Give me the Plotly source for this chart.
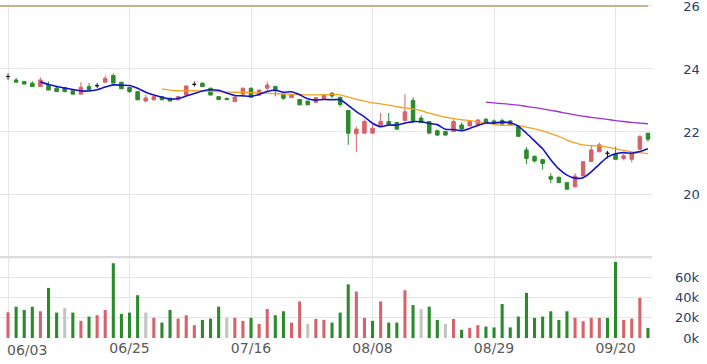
import plotly.graph_objects as go
import pandas as pd

dates = ["06/03","06/04","06/05","06/06","06/07","06/11","06/12","06/13","06/14",
         "06/17","06/18","06/19","06/20","06/21","06/24","06/25","06/26","06/27","06/28",
         "07/01","07/02","07/03","07/04","07/05","07/08","07/09","07/10","07/11","07/12",
         "07/15","07/16","07/17","07/18","07/19","07/22","07/23","07/26","07/29","07/30","07/31",
         "08/01","08/02","08/05","08/06","08/07","08/08","08/09","08/12","08/13","08/14","08/15","08/16",
         "08/19","08/20","08/21","08/22","08/23","08/26","08/27","08/28","08/29","08/30",
         "09/02","09/03","09/04","09/05","09/06","09/09","09/10","09/11","09/12","09/13",
         "09/16","09/18","09/19","09/20","09/23","09/24","09/25","09/26"]

opens = [23.76,23.65,23.60,23.55,23.44,23.47,23.39,23.41,23.31,23.20,23.44,23.47,23.58,23.79,23.58,23.41,23.28,22.98,23.02,23.12,
         23.07,23.02,23.17,23.51,23.55,23.39,23.12,23.06,22.96,23.20,23.39,23.17,23.39,23.44,23.20,23.09,23.03,22.98,22.94,23.04,
         23.23,23.10,22.68,21.94,21.96,21.96,22.17,22.33,22.30,22.36,23.00,22.44,22.33,22.04,22.01,22.01,22.22,22.19,22.22,22.40,
         22.35,22.36,22.35,22.17,21.43,21.22,21.12,20.58,20.56,20.39,20.26,20.60,21.06,21.37,21.32,21.30,21.16,21.13,21.45,21.96]
highs = [23.85,23.72,23.62,23.61,23.73,23.60,23.47,23.42,23.33,23.58,23.55,23.55,23.79,23.86,23.58,23.41,23.28,23.17,23.14,23.14,
         23.09,23.14,23.47,23.60,23.57,23.39,23.14,23.10,23.12,23.40,23.40,23.34,23.60,23.47,23.22,23.18,23.04,22.99,23.10,23.18,
         23.26,23.12,22.68,22.17,22.40,22.25,22.60,22.60,22.32,23.20,23.10,22.53,22.34,22.05,22.02,22.40,22.30,22.33,22.40,22.45,
         22.40,22.42,22.38,22.20,21.52,21.26,21.15,20.69,20.58,20.40,20.69,21.06,21.59,21.66,21.40,21.53,21.30,21.34,21.90,21.97]
lows = [23.66,23.58,23.52,23.44,23.44,23.33,23.28,23.26,23.20,23.20,23.33,23.40,23.58,23.55,23.37,23.24,23.02,22.96,23.00,23.02,
        22.98,23.00,23.17,23.44,23.44,23.17,23.02,23.01,22.95,23.20,23.10,23.15,23.30,23.13,23.02,23.08,22.86,22.86,22.93,23.03,
        23.07,22.80,21.59,21.37,21.96,21.96,22.17,22.22,22.06,22.36,22.28,22.28,21.96,21.87,21.88,22.01,22.05,22.19,22.22,22.30,
        22.25,22.20,22.20,21.86,20.98,21.03,20.80,20.37,20.39,20.18,20.24,20.60,21.06,21.37,21.16,21.13,21.10,21.03,21.45,21.69]
closes = [23.76,23.58,23.52,23.44,23.65,23.33,23.28,23.28,23.20,23.42,23.33,23.47,23.70,23.55,23.37,23.28,23.02,23.08,23.12,23.02,
          22.98,23.12,23.46,23.51,23.44,23.17,23.03,23.03,23.11,23.39,23.10,23.33,23.49,23.31,23.07,23.17,22.86,22.86,23.09,23.17,
          23.14,22.87,21.96,22.09,22.33,22.12,22.33,22.22,22.09,22.64,22.36,22.30,21.96,21.90,21.90,22.33,22.09,22.33,22.38,22.30,
          22.30,22.25,22.22,21.86,21.16,21.08,21.00,20.50,20.39,20.18,20.60,21.06,21.43,21.59,21.32,21.13,21.24,21.34,21.85,21.77]
doji_idx = [0, 11, 23, 74]

volumes_k = [25.3,30.8,27.6,30.8,26.3,49.3,25.0,29.5,25.0,16.9,21.1,22.4,27.6,73.6,23.7,25.0,42.1,25.0,19.8,15.2,
             27.6,19.1,22.4,12.6,17.8,19.1,30.8,19.8,19.8,16.9,19.8,13.9,28.5,22.4,26.3,15.2,36.0,13.9,18.8,17.8,
             15.2,25.0,52.8,45.7,19.8,16.9,36.0,15.2,15.2,47.0,32.4,28.5,30.8,17.8,13.9,18.8,8.1,10.0,12.6,11.3,
             10.4,33.4,10.4,21.1,44.4,19.8,21.1,26.3,17.8,26.3,19.8,16.5,19.8,19.8,19.8,74.9,17.8,19.1,39.5,10.0]
# u = up (red), d = down (green), f = flat (grey)
vol_dir = list("uddduddfdu" "duuddddfud" "duuudddfuu" "duudduufuu" "ddduududdu"
               "dfddfuduud" "dddddddddd" "uuuudduuud")

tick_dates = ["06/03","06/25","07/16","08/08","08/29","09/20"]
price_ticks = [20, 22, 24, 26]
vol_ticks = [0, 20000, 40000, 60000]
vol_tick_text = ["\u20070k", "20k", "40k", "60k"]

RED = "#d5636b"
GREEN = "#2b8a2b"
GREY = "#c4c4c4"

n = len(dates)
main_idx = [i for i in range(n) if i not in doji_idx]
sel = lambda arr, idx: [arr[i] for i in idx]

fig = go.Figure()
fig.add_trace(go.Candlestick(
    x=sel(dates, main_idx), open=sel(opens, main_idx), high=sel(highs, main_idx),
    low=sel(lows, main_idx), close=sel(closes, main_idx),
    increasing=dict(line=dict(color=RED, width=1), fillcolor=RED),
    decreasing=dict(line=dict(color=GREEN, width=1), fillcolor=GREEN),
    whiskerwidth=0, xaxis="x", yaxis="y", showlegend=False))
fig.add_trace(go.Candlestick(
    x=sel(dates, doji_idx), open=sel(opens, doji_idx), high=sel(highs, doji_idx),
    low=sel(lows, doji_idx), close=sel(closes, doji_idx),
    increasing=dict(line=dict(color="#111111", width=1), fillcolor="#111111"),
    decreasing=dict(line=dict(color="#111111", width=1), fillcolor="#111111"),
    whiskerwidth=0, xaxis="x", yaxis="y", showlegend=False))

cs = pd.Series(closes)
ma5 = cs.rolling(5).mean()
ma20 = cs.rolling(20).mean()
ma60 = cs.rolling(60).mean()
for ma, col, w in [(ma60, "#9b32d6", 1.3), (ma20, "#f3a21e", 1.3), (ma5, "#1212cc", 1.6)]:
    fig.add_trace(go.Scatter(x=dates, y=ma, mode="lines", line=dict(color=col, width=w, shape="spline", smoothing=0.6),
                             xaxis="x", yaxis="y", showlegend=False, hoverinfo="skip"))

cmap = {"u": RED, "d": GREEN, "f": GREY}
fig.add_trace(go.Bar(x=dates, y=[v * 1000 for v in volumes_k], marker_color=[cmap[c] for c in vol_dir],
                     marker_line_width=0, width=0.38, xaxis="x2", yaxis="y2", showlegend=False))

grid = "#e6e6e6"
xcommon = dict(type="category", categoryorder="array", categoryarray=dates, range=[-0.99, 79.5],
               tickmode="array", tickvals=tick_dates, showgrid=True, gridcolor=grid, gridwidth=1,
               zeroline=False, showline=False, ticks="", rangeslider=dict(visible=False),
               fixedrange=True, automargin=False)
ycommon = dict(side="right", showgrid=True, gridcolor=grid, zeroline=False, showline=False, ticks="",
               ticklabelstandoff=22, automargin=False, fixedrange=True, ticklabeloverflow="allow",
               tickfont=dict(family="DejaVu Sans", size=13, color="#24406e"))
date_font = dict(family="DejaVu Sans", size=14, color="#5a5a5a")
fig.update_layout(
    width=707, height=364, margin=dict(l=0, r=55, t=4, b=26, autoexpand=False),
    paper_bgcolor="white", plot_bgcolor="white", boxgap=0.38, bargap=0.6,
    showlegend=False, font=dict(family="DejaVu Sans"),
    xaxis=dict(**xcommon, domain=[0, 1], anchor="y", showticklabels=False),
    xaxis2=dict(**xcommon, domain=[0, 1], anchor="y2",
                ticktext=[""] + tick_dates[1:], showticklabels=True, tickfont=date_font),
    yaxis=dict(**ycommon, domain=[0.2455, 1], range=[18.06, 26.063], anchor="x",
               tickvals=price_ticks, ticktext=["\u2007" + str(t) for t in price_ticks]),
    yaxis2=dict(**ycommon, domain=[0, 0.2455], range=[0, 80700], anchor="x2",
                tickvals=vol_ticks, ticktext=vol_tick_text),
    annotations=[dict(text=tick_dates[0], x=tick_dates[0], xref="x2", y=0, yref="paper",
                      xanchor="left", yanchor="top", xshift=-3, yshift=-2, showarrow=False,
                      font=date_font)],
    shapes=[
        dict(type="line", xref="x", yref="y", x0=-0.99, x1=79, y0=26, y1=26,
             line=dict(color="#c6b48e", width=2)),
        dict(type="line", xref="x2 domain", yref="y2", x0=0, x1=1, y0=80000, y1=80000,
             line=dict(color="#dcdcdc", width=3)),
    ],
)
fig.write_html("out.html", config={"displayModeBar": False},
               post_script="document.body.style.margin='0';")
